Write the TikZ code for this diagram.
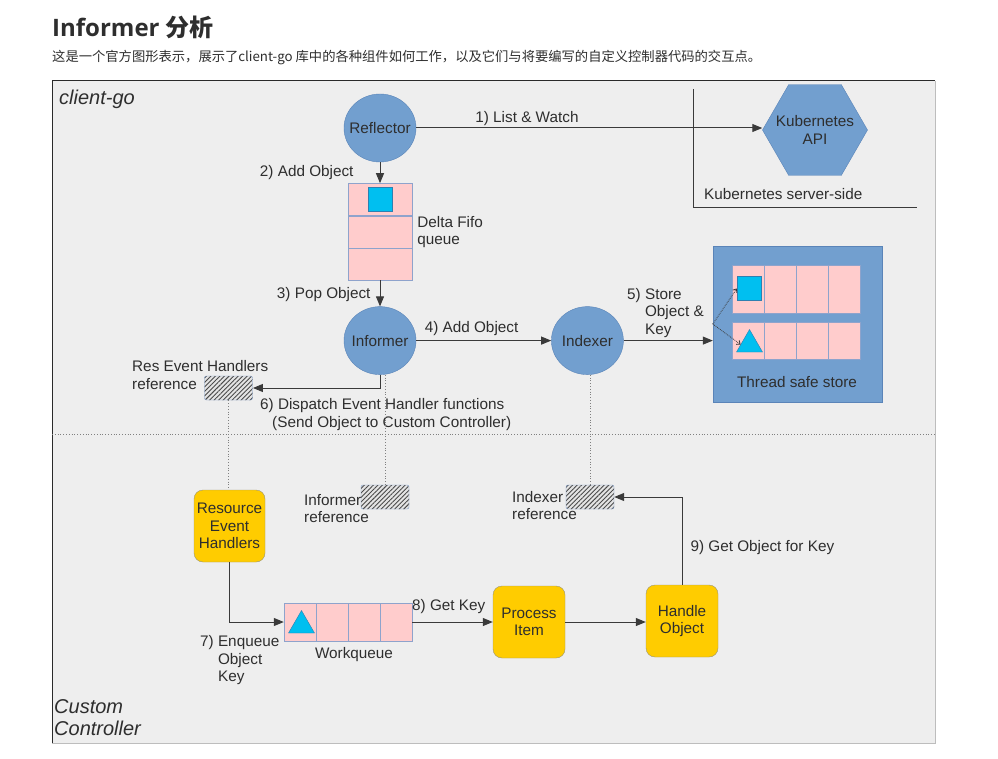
\documentclass[tikz,border=0pt]{standalone}
\usepackage{fontspec}
\setmainfont{Liberation Sans}
\newfontfamily\cjk{Noto Sans CJK SC}
\newfontfamily\headfont{Open Sans}
\usepackage{xcolor}
\definecolor{frameFill}{HTML}{EEEEEE}
\definecolor{frameDark}{HTML}{2A2A2A}
\definecolor{frameLight}{HTML}{BDBDBD}
\definecolor{nodeBlue}{HTML}{729FCF}
\definecolor{nodeBorder}{HTML}{5A84B8}
\definecolor{cellPink}{HTML}{FFCCCC}
\definecolor{cellBorder}{HTML}{8EA3CC}
\definecolor{objCyan}{HTML}{00BFF0}
\definecolor{objBorder}{HTML}{2F7FB0}
\definecolor{ctrlGold}{HTML}{FFCC00}
\definecolor{ctrlBorder}{HTML}{9C9570}
\definecolor{refFill}{HTML}{E4E4E4}
\definecolor{refBorder}{HTML}{7E9CC8}
\definecolor{hatchGray}{HTML}{4A4A4A}
\definecolor{txtDark}{HTML}{2E2E2E}
\definecolor{lineDark}{HTML}{3A3A3A}
\usepackage{tikz}
\usetikzlibrary{shapes.geometric,arrows.meta,positioning,patterns.meta}
\newcommand{\diagfont}{\fontsize{15.3}{17.5}\selectfont}
\newcommand{\zonefont}{\fontsize{20}{21.5}\selectfont\itshape}
% text that may stick out of its shape
\newcommand{\overtext}[1]{\makebox[0pt]{#1}}
\tikzset{
    component/.style={
        ellipse,
        draw=nodeBorder,
        fill=nodeBlue,
        minimum width=72pt,
        minimum height=68pt,
        inner sep=0pt,
        text=txtDark,
        font=\diagfont
    },
    apiserver/.style={
        regular polygon,
        regular polygon sides=6,
        draw=nodeBorder,
        fill=nodeBlue,
        minimum size=105pt,
        inner sep=0pt,
        align=center,
        text=txtDark,
        font=\diagfont
    },
    queuecell/.style={
        rectangle,
        draw=cellBorder,
        fill=cellPink,
        minimum width=32pt,
        minimum height=32pt,
        inner sep=0pt
    },
    objsquare/.style={
        rectangle,
        draw=objBorder,
        fill=objCyan,
        minimum size=24pt,
        inner sep=0pt
    },
    objtriangle/.style={
        regular polygon,
        regular polygon sides=3,
        draw=objBorder,
        fill=objCyan,
        minimum size=30pt,
        inner sep=0pt
    },
    refbox/.style={
        rectangle,
        rounded corners=2pt,
        draw=refBorder,
        preaction={fill=refFill},
        pattern={Lines[angle=45,distance=3.2pt,line width=0.9pt]},
        pattern color=hatchGray,
        minimum width=48pt,
        minimum height=24pt,
        inner sep=0pt
    },
    ctrlbox/.style={
        rectangle,
        rounded corners=9pt,
        draw=ctrlBorder,
        fill=ctrlGold,
        minimum width=72pt,
        minimum height=72pt,
        inner sep=0pt,
        align=center,
        text=txtDark,
        font=\diagfont
    },
    arrow/.style={
        -{Triangle[length=10pt,width=8pt]},
        line width=1pt,
        color=lineDark
    },
    dotarrow/.style={
        -{Straight Barb[length=3pt,width=5pt]},
        densely dotted,
        line width=0.8pt,
        color=lineDark
    },
    dotline/.style={
        dotted,
        line width=0.8pt,
        color=gray
    },
    lbl/.style={
        font=\diagfont,
        text=txtDark,
        inner sep=0pt,
        align=left
    },
    zonelabel/.style={
        font=\zonefont,
        text=txtDark,
        inner sep=0pt,
        align=left,
        anchor=west
    }
}

\begin{document}
\begin{tikzpicture}[x=1pt, y=-1pt]
    \useasboundingbox (0,0) rectangle (998,759);

    % Heading above the figure
    \node[anchor=west, inner sep=0pt, text=txtDark] (title) at (52,27) {\headfont\bfseries\fontsize{24}{30}\selectfont Informer {\cjk\bfseries 分析}};
    \node[anchor=west, inner sep=0pt, text=txtDark] (subtitle) at (52,58) {\cjk\fontsize{13.3}{16}\selectfont 这是一个官方图形表示，展示了client-go 库中的各种组件如何工作，以及它们与将要编写的自定义控制器代码的交互点。};

    % Frame and the two zones
    \fill[frameFill] (52,81) rectangle (935,743);
    \draw[frameDark, line width=1pt] (52,743) -- (52,81) -- (935,81);
    \draw[frameLight, line width=1pt] (935,81) -- (935,743) -- (52,743);
    \draw[dotline] (52,434) -- (935,434);
    \node[zonelabel] (clientgo) at (59,99) {client-go};
    \node[zonelabel] (custom) at (54,717.5) {Custom\\Controller};

    % Server side corner
    \draw[lineDark, line width=1pt] (693,89) -- (693,208) -- (917,208);
    \node[lbl, anchor=west] (serverside) at (704,194) {Kubernetes server-side};
    \node[apiserver] (k8sapi) at (815,130) {\overtext{Kubernetes}\\\overtext{API}};

    % Reflector, delta fifo, informer, indexer
    \node[component] (reflector) at (380,128) {\overtext{Reflector}};
    \node[queuecell, minimum width=64pt, below=21pt of reflector] (fifoA) {};
    \node[queuecell, minimum width=64pt, below=0pt of fifoA] (fifoB) {};
    \node[queuecell, minimum width=64pt, below=0pt of fifoB] (fifoC) {};
    \node[objsquare] (fifoObj) at (fifoA) {};
    \node[lbl, right=5pt of fifoB] (fifoLabel) {Delta Fifo\\queue};
    \node[component, below=26pt of fifoC] (informer) {\overtext{Informer}};
    \node[component, right=135pt of informer] (indexer) {\overtext{Indexer}};

    % Thread safe store
    \node[rectangle, draw=nodeBorder, fill=nodeBlue, minimum width=169pt, minimum height=156pt] (store) at (797.5,324) {};
    \foreach \i in {1,...,4} {
        \node[queuecell, minimum height=48pt] (rowA\i) at ({716+32*\i},289.5) {};
        \node[queuecell, minimum height=37pt] (rowB\i) at ({716+32*\i},340.5) {};
    }
    \node[objsquare] (storeObj) at (749,288.5) {};
    \node[objtriangle] (storeTri) at (749.5,344.5) {};
    \node[lbl] (storeLabel) at (797,382) {Thread safe store};

    % References
    \node[refbox] (resref) at (228.5,388) {};
    \node[refbox] (infref) at (385,497) {};
    \node[refbox] (idxref) at (590,497) {};
    \node[lbl, anchor=west] (resrefLabel) at (132,375) {Res Event Handlers\\reference};
    \node[lbl, anchor=west] (infrefLabel) at (304,508.5) {Informer\\reference};
    \node[lbl, anchor=west] (idxrefLabel) at (512,505.5) {Indexer\\reference};

    % Custom controller
    \node[ctrlbox, minimum width=71pt] (handlers) at (229.5,526) {Resource\\Event\\Handlers};
    \foreach \i in {1,...,4}
        \node[queuecell, minimum height=38pt] (wq\i) at ({268+32*\i},622) {};
    \node[objtriangle] (wqTri) at (301.5,625.5) {};
    \node[lbl] (wqLabel) at (354,655) {Workqueue};
    \node[ctrlbox] (process) at (529,622) {Process\\Item};
    \node[ctrlbox] (handle) at (682,621) {Handle\\Object};

    % Arrows
    \draw[arrow] (reflector.east) -- (reflector.east -| k8sapi.west) node[lbl, pos=0.32, above=2pt] {1) List \& Watch};
    \draw[arrow] (reflector.south -| fifoA.north) -- (fifoA.north) node[lbl, midway, left=26pt] {2) Add Object};
    \draw[arrow] (fifoC.south) -- (fifoC.south |- informer.north) node[lbl, pos=0.55, left=9pt] {3) Pop Object};
    \draw[arrow] (informer.east) -- (indexer.west) node[lbl, pos=0.41, above=4pt] {4) Add Object};
    \draw[arrow] (indexer.east) -- (indexer.east -| store.west);
    \node[lbl, anchor=west] (storeStep) at (627,313) {5) Store\\\hphantom{5) }Object \&\\\hphantom{5) }Key};
    \draw[dotarrow] (store.west) -- (storeObj.west);
    \draw[dotarrow] (store.west) -- (storeTri.west);
    \draw[arrow] (informer.south) |- (resref.east);
    \node[lbl, anchor=west] (dispatch) at (260,414.5) {6) Dispatch Event Handler functions\\\hspace*{12pt}(Send Object to Custom Controller)};
    \draw[dotline] (informer.south -| infref.north) -- (infref.north);
    \draw[dotline] (indexer.south -| idxref.north) -- (idxref.north);
    \draw[dotline] (resref.south) -- (resref.south |- handlers.north);
    \draw[arrow] (handlers.south) |- (wq1.west);
    \node[lbl, anchor=west] (enqueue) at (200,660.5) {7) Enqueue\\\hphantom{7) }Object\\\hphantom{7) }Key};
    \draw[arrow] (wq4.east) -- (wq4.east -| process.west);
    \node[lbl, anchor=west] (getkey) at (412,607) {8) Get Key};
    \draw[arrow] (process.east) -- (process.east -| handle.west);
    \draw[arrow] (handle.north) |- (idxref.east) node[lbl, pos=0.21, right=8pt] {9) Get Object for Key};
\end{tikzpicture}
\end{document}
